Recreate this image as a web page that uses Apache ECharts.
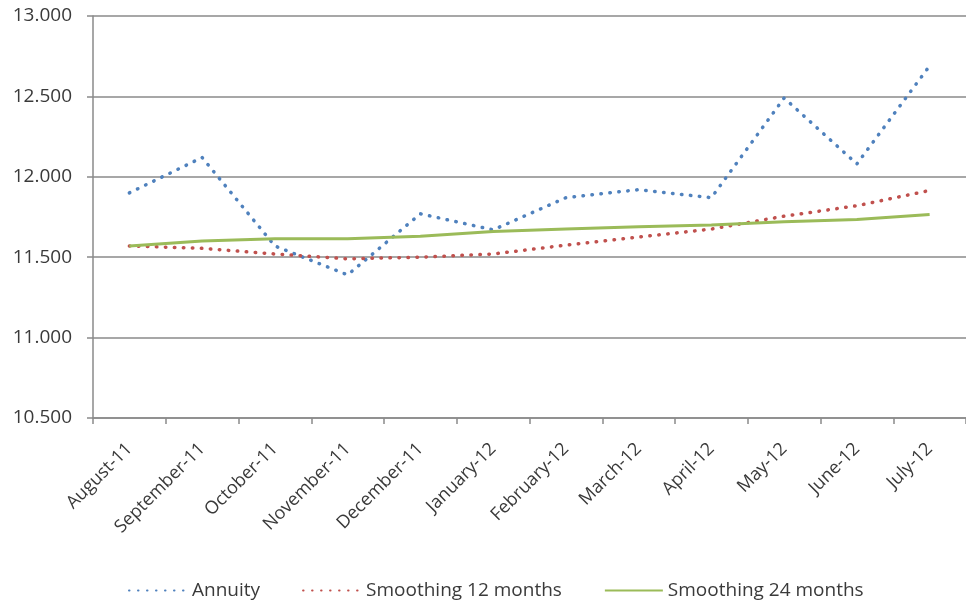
<!DOCTYPE html>
<html>
<head>
<meta charset="utf-8">
<script src="https://cdn.jsdelivr.net/npm/echarts@6/dist/echarts.min.js"></script>
<style>
  html, body { margin: 0; padding: 0; background: #ffffff; }
  #chart { width: 966px; height: 605px; }
</style>
</head>
<body>
<div id="chart"></div>
<script>
// Monthly annuity and its moving averages (thousands)
const months = ['August-11', 'September-11', 'October-11', 'November-11', 'December-11', 'January-12',
                'February-12', 'March-12', 'April-12', 'May-12', 'June-12', 'July-12'];
const annuity     = [11.90, 12.12, 11.57, 11.39, 11.77, 11.67, 11.87, 11.92, 11.87, 12.49, 12.08, 12.69];
const smoothing12 = [11.57, 11.555, 11.52, 11.49, 11.50, 11.52, 11.575, 11.625, 11.675, 11.755, 11.82, 11.915];
const smoothing24 = [11.57, 11.60, 11.615, 11.615, 11.63, 11.66, 11.675, 11.69, 11.70, 11.72, 11.735, 11.765];
const seriesNames = ['Annuity', 'Smoothing 12 months', 'Smoothing 24 months'];

const font = '"Open Sans", sans-serif';
const textColor = '#3a3a3a';
const gridColor = '#8a8a8a';

const fmt = v => v.toFixed(3);

const dotted = (color) => ({
  color: color,
  width: 3.5,
  type: [0.5, 8.5],
  cap: 'round'
});

const chart = echarts.init(document.getElementById('chart'), null, { renderer: 'canvas' });
chart.setOption({
  animation: false,
  backgroundColor: '#ffffff',
  grid: { left: 93, right: 0, top: 16, bottom: 187, containLabel: false },
  xAxis: {
    type: 'category',
    data: months,
    boundaryGap: true,
    axisLine: { lineStyle: { color: gridColor, width: 1.5 } },
    axisTick: { show: true, length: 6, alignWithLabel: false, lineStyle: { color: gridColor, width: 1.5 } },
    axisLabel: {
      rotate: 45,
      margin: 28,
      color: textColor,
      fontFamily: font,
      fontSize: 18,
      interval: 0
    }
  },
  yAxis: {
    type: 'value',
    min: 10.5,
    max: 13,
    interval: 0.5,
    axisLine: { show: true, lineStyle: { color: gridColor, width: 1.5 } },
    axisTick: { show: true, length: 6, lineStyle: { color: gridColor, width: 1.5 } },
    splitLine: { show: true, lineStyle: { color: gridColor, width: 1.5 } },
    axisLabel: {
      color: textColor,
      fontFamily: font,
      fontSize: 19,
      margin: 21,
      formatter: fmt
    }
  },
  legend: {
    bottom: 0,
    left: 123,
    itemWidth: 58,
    itemHeight: 4,
    itemGap: 42,
    itemStyle: { opacity: 0 },
    textStyle: { color: textColor, fontFamily: font, fontSize: 19 },
    data: seriesNames
  },
  series: [
    {
      name: seriesNames[0],
      type: 'line',
      data: annuity,
      symbol: 'none',
      color: '#4f81bd',
      lineStyle: dotted('#4f81bd')
    },
    {
      name: seriesNames[1],
      type: 'line',
      data: smoothing12,
      symbol: 'none',
      color: '#c0504d',
      lineStyle: dotted('#c0504d')
    },
    {
      name: seriesNames[2],
      type: 'line',
      data: smoothing24,
      symbol: 'none',
      color: '#9bbb59',
      lineStyle: { color: '#9bbb59', width: 3, type: 'solid' }
    }
  ]
});
</script>
</body>
</html>
